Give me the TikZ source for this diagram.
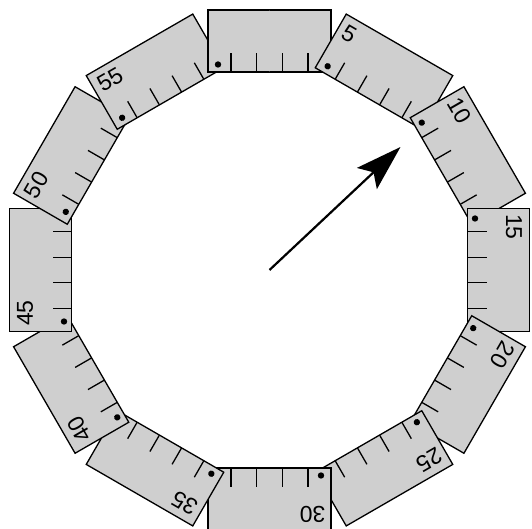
\documentclass[tikz,border=0pt]{standalone}
\usepackage{fontspec}
\setmainfont{Liberation Sans}
\usetikzlibrary{arrows.meta}
\definecolor{scalefill}{gray}{0.81}
\tikzset{
  plate/.style={fill=scalefill, draw=black, line width=1.3pt},
  tickmark/.style={draw=black, line width=1.3pt},
  numlabel/.style={font=\fontsize{23}{23}\selectfont, inner sep=0pt, anchor=west, transform shape},
  pointer/.style={draw=black, line width=2.2pt, -{Stealth[length=46pt,width=29pt,inset=9pt]}},
}
\newcommand\dialplate[1]{%
  \filldraw[plate] (-61.5,198) rectangle (61.5,260);
  \foreach \t in {-38.5,-12.8,12.8,38.5} \draw[tickmark] (\t,198) -- (\t,217);
  \fill[black] (-51.5,205.5) circle (3.2);
  \ifnum#1>0 \node[numlabel] (n#1) at (-56,46.5+198) {\the\numexpr5*#1\relax};\fi
}
\begin{document}
\begin{tikzpicture}[x=1pt,y=1pt]
\useasboundingbox (0,0) rectangle (532,529);
\coordinate (c) at (269.5,259);
\foreach \k in {0,...,11}{
  \begin{scope}[shift={(c)}, rotate=-30*\k]
    \dialplate{\k}
  \end{scope}
}
% plate 0 overlaps plate 55 on its left side
\begin{scope}[shift={(c)}]
  \clip (-120,150) rectangle (0,300);
  \dialplate{0}
\end{scope}
\coordinate (tip) at (400.5,382);
\draw[pointer] (c) -- (tip);
\end{tikzpicture}
\end{document}
